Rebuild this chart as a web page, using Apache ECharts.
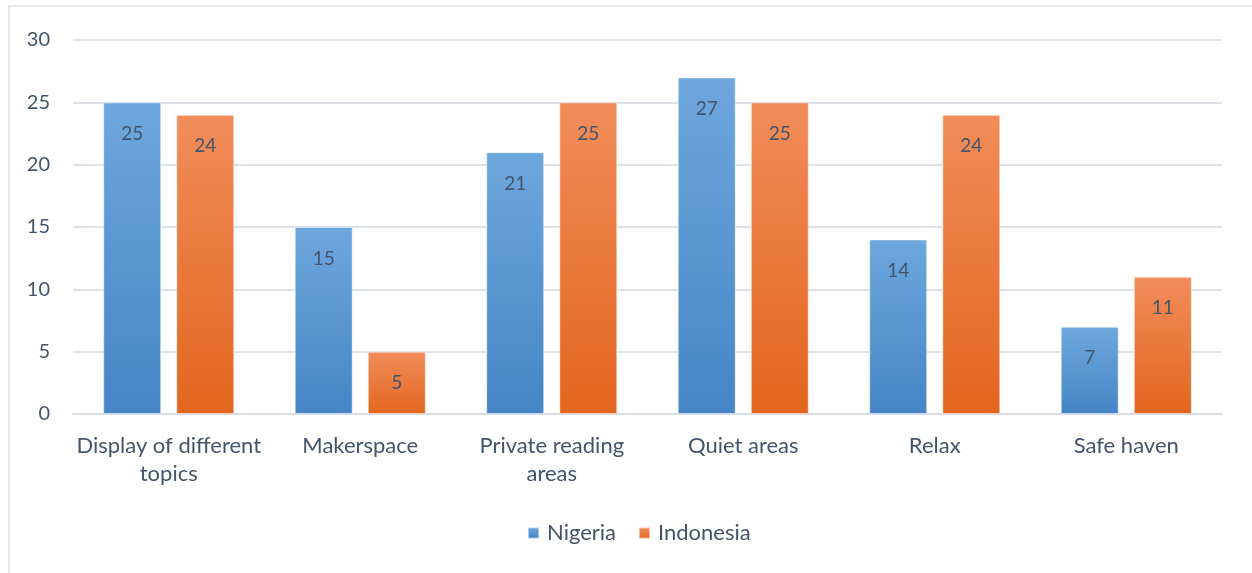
<!DOCTYPE html>
<html><head><meta charset="utf-8">
<script src="https://cdn.jsdelivr.net/npm/echarts@6/dist/echarts.min.js"></script>
<style>
html,body{margin:0;padding:0;background:#fff;width:1252px;height:573px;overflow:hidden;}
#frame{position:absolute;left:8px;top:5px;width:1260px;height:600px;border:2px solid #E3E6EA;box-sizing:border-box;}
#chart{position:absolute;left:0;top:0;width:1252px;height:573px;}
</style></head>
<body>
<div id="frame"></div>
<div id="chart"></div>
<script>
const categories = ['Display of different\ntopics','Makerspace','Private reading\nareas','Quiet areas','Relax','Safe haven'];
const nigeria = [25,15,21,27,14,7];
const indonesia = [24,5,25,25,24,11];
const seriesNames = ['Nigeria','Indonesia'];

const textColor = '#44546A';
const font = 'Lato';
function grad(top,bottom){return new echarts.graphic.LinearGradient(0,0,0,1,[{offset:0,color:top},{offset:1,color:bottom}]);}
const chart = echarts.init(document.getElementById('chart'));
const labelCfg = {show:true,position:'insideTop',distance:22,color:textColor,fontSize:19,fontFamily:font};
chart.setOption({
  animation:false,
  textStyle:{fontFamily:font},
  grid:{left:73,right:30,top:40,bottom:159,containLabel:false},
  legend:{bottom:24,left:522,itemWidth:11,itemHeight:11,itemGap:22,icon:'rect',
    textStyle:{color:textColor,fontSize:22,fontFamily:font,padding:[0,0,0,3]},data:seriesNames},
  xAxis:{type:'category',data:categories,
    axisLine:{lineStyle:{color:'#D9DDE3',width:2}},axisTick:{show:false},
    axisLabel:{color:textColor,fontSize:22,fontFamily:font,margin:18,lineHeight:28,interval:0}},
  yAxis:{type:'value',min:0,max:30,interval:5,
    axisLine:{show:false},axisTick:{show:false},
    splitLine:{lineStyle:{color:'#DDE1E8',width:2}},
    axisLabel:{color:textColor,fontSize:20,fontFamily:font,margin:23}},
  series:[
    {name:seriesNames[0],type:'bar',data:nigeria,barWidth:58,barGap:'26%',
     itemStyle:{color:grad('#6EA7DD','#4585C6'),borderColor:'rgba(255,255,255,0.5)',borderWidth:1},label:labelCfg},
    {name:seriesNames[1],type:'bar',data:indonesia,barWidth:58,
     itemStyle:{color:grad('#F18D5A','#E2661F'),borderColor:'rgba(255,255,255,0.5)',borderWidth:1},label:labelCfg}
  ]
});
</script>
</body></html>
